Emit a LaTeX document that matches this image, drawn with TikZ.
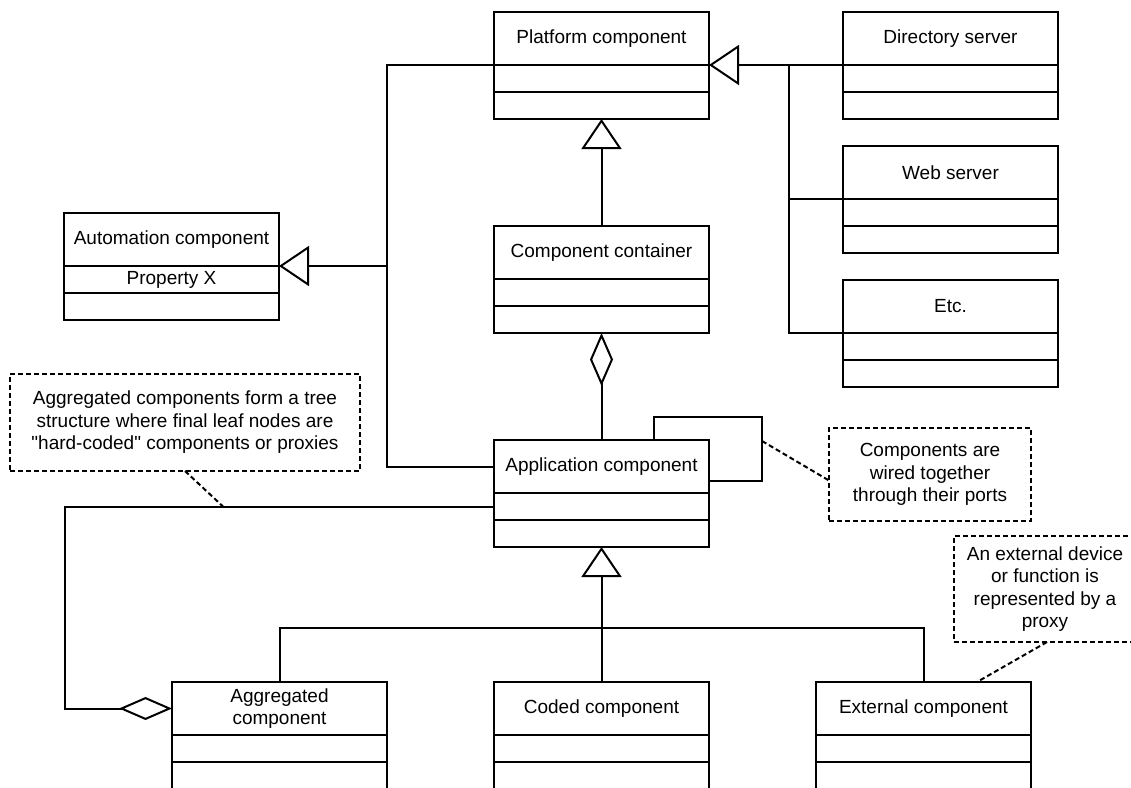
\documentclass[tikz,border=0pt]{standalone}
\usepackage{fontspec}
\setmainfont{Liberation Sans}
\usetikzlibrary{arrows.meta}

% one UML class: title, attribute and operation compartments
\newcommand\umlbox[5]{%
  \node[cls title, anchor=north west] (#1) at (#2,#3) {#4};
  \node[cls part, anchor=north] (#1-a) at (#1.south) {#5};
  \node[cls part, anchor=north] (#1-o) at (#1-a.south) {};
}

\tikzset{
  every node/.style={font=\fontsize{19}{22.5}\selectfont, inner sep=0pt, outer sep=0pt},
  cls title/.style={draw, line width=2pt, minimum width=215pt, minimum height=53pt, align=center},
  cls part/.style={draw, line width=2pt, minimum width=215pt, minimum height=27pt},
  link/.style={line width=2pt},
  gen/.style={link, -{Triangle[open, length=30pt, width=40pt]}},
  aggr/.style={link, -{Diamond[open, length=53pt, width=23pt]}},
  note/.style={draw, line width=2pt, dash pattern=on 5pt off 3pt, align=center},
  noteline/.style={line width=2pt, dash pattern=on 5pt off 3pt},
}

\begin{document}
\begin{tikzpicture}[x=1pt, y=-1pt]
\useasboundingbox (0,0) rectangle (1131,787);

% classes
\umlbox{pc}{494}{12}{Platform component}{}
\umlbox{dir}{843}{12}{Directory server}{}
\umlbox{web}{843}{146}{Web server}{}
\umlbox{etc}{843}{280}{Etc.}{}
\umlbox{aut}{64}{213}{Automation component}{Property X}
\umlbox{cc}{494}{226}{Component container}{}
\umlbox{app}{494}{440}{Application component}{}
\umlbox{agg}{172}{682}{Aggregated\\component}{}
\umlbox{coded}{494}{682}{Coded component}{}
\umlbox{ext}{816}{682}{External component}{}

% notes
\node[note, minimum width=350pt, minimum height=97pt] (n2) at (185,422.5)
  {Aggregated components form a tree\\structure where final leaf nodes are\\\textquotedbl hard-coded\textquotedbl{} components or proxies};
\node[note, minimum width=202pt, minimum height=93pt] (n1) at (930,474.5)
  {Components are\\wired together\\through their ports};
\node[note, minimum width=182pt, minimum height=106pt] (n3) at (1045,589)
  {An external device\\or function is\\represented by a\\proxy};

% bend points
\coordinate (busR) at (789,65);
\coordinate (busL) at (387,65);
\coordinate (loop) at (762,417);
\coordinate (tree) at (601.5,628);
\coordinate (n2end) at (223,506.5);

% servers specialise the platform component
\draw[gen] (dir.south west) -- (pc.south east);
\draw[link] (web.south west) -| (busR);
\draw[link] (etc.south west) -| (busR);

% container specialises the platform component
\draw[gen] (cc.north) -- (pc-o.south);

% application components live in a container
\draw[aggr] (app.north) -- (cc-o.south);

% application component is both platform and automation component
\draw[link] (app.west) -| (busL) -- (pc.south west);
\draw[gen] (busL |- aut.south east) -- (aut.south east);

% ports wired to each other
\draw[link] ([xshift=52.5pt]app.north) |- (loop) |- ([yshift=-41pt]app.north east);
\draw[noteline] ([yshift=-24pt]loop) -- ([yshift=-6pt]n1.west);

% aggregated components contain application components
\draw[aggr] (app-a.west) -| ([xshift=-107pt]agg.west) -- (agg.west);
\draw[noteline] (n2.south) -- (n2end);

% kinds of application component
\draw[gen] (coded.north) -- (app-o.south);
\draw[link] (agg.north) |- (tree) -| (ext.north);
\draw[noteline] ([xshift=2pt]n3.south) -- ([xshift=53.5pt]ext.north);
\end{tikzpicture}
\end{document}
